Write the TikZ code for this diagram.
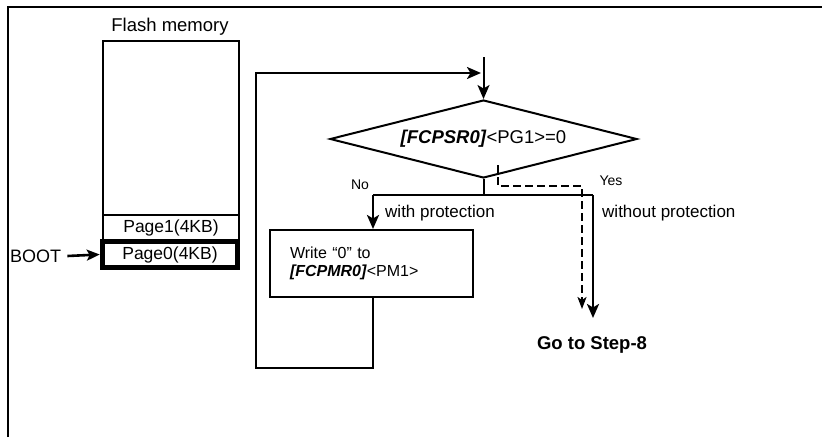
\documentclass[tikz,border=0pt]{standalone}
\usepackage{fontspec}
\setmainfont{Liberation Sans}
\usetikzlibrary{shapes.geometric,arrows.meta}
\begin{document}
\begin{tikzpicture}[x=1pt,y=-1pt,
  font=\fontsize{17}{20}\selectfont,
  ln/.style={line width=2pt},
  arr/.style={-{Stealth[length=14pt,width=12pt,inset=3.5pt]}},
  darr/.style={-{Stealth[length=12pt,width=9pt,inset=3pt]}},
  cell/.style={draw,ln,inner sep=0pt,minimum width=136pt},
  big/.style={font=\fontsize{18.5}{22}\selectfont},
  small/.style={font=\fontsize{14}{16}\selectfont}]
\useasboundingbox (0,0) rectangle (822,437);
% frame
\draw[line width=2pt] (8,437) -- (8,7) -- (822,7);

% flash memory
\node[big] (flashlbl) at (170,27) {Flash memory};
\node[cell,minimum height=174pt,anchor=north west] (flash) at (102,40) {};
\node[cell,minimum height=26pt,anchor=north west,font=\fontsize{17.5}{20}\selectfont] (page1) at (102,214) {Page1(4KB)};
\node[draw,line width=5.5pt,inner sep=0pt,minimum width=135pt,minimum height=26pt,font=\fontsize{17.5}{20}\selectfont] (page0) at (170,254.5) {Page0(4KB)};
\node[anchor=west,inner sep=0pt,font=\fontsize{18}{20}\selectfont] (boot) at (10,256) {BOOT};
\draw[line width=2.6pt,-{Stealth[length=13pt,width=11pt,inset=3pt]}] (boot.east) ++(6,0) coordinate (bootS) (bootS) -- (page0.west);

% decision
\node[draw,ln,shape=diamond,aspect=3.9,inner sep=0pt,minimum width=307pt,minimum height=78pt,big] (dec) at (483.5,139)
  {\textbf{\textit{[FCPSR0]}}<PG1>=0};
\coordinate (in) at (483.5,57);
\draw[ln,arr] (in) -- (dec.north);

\coordinate (split) at (483.5,195);
\coordinate (nl) at (373,195);
\coordinate (nr) at (593,195);
\draw[ln] (dec.south) -- (split);
\draw[line width=2.4pt] (nl) -- (nr);

% process box
\node[draw,ln,minimum width=203pt,minimum height=67pt,inner xsep=20pt,text width=163pt,align=left,font=\fontsize{16}{19}\selectfont] (box) at (371.5,263.5)
  {Write “0” to\\[-1pt]\textbf{\textit{[FCPMR0]}}<PM1>};
\draw[line width=2.6pt,arr] (nl) -- (nl |- box.north);

% right branch
\coordinate (goend) at (593,318);
\draw[line width=2.8pt,arr] (nr) -- (goend);
\node[font=\fontsize{18.5}{22}\selectfont\bfseries] (goto) at (592,345) {Go to Step-8};

% dashed branch
\coordinate (d0) at (498,165);
\coordinate (d1) at (498,186);
\coordinate (d2) at (582,186);
\coordinate (d3) at (582,309);
\draw[line width=2pt,dash pattern=on 8pt off 4pt,darr] (d0) -- (d1) -- (d2) -- (d3);

% labels
\node[small] (no) at (360,185) {No};
\node[small] (yes) at (611,181) {Yes};
\node[anchor=west,inner sep=0pt] (wp) at (385,213) {with protection};
\node[anchor=west,inner sep=0pt] (wop) at (602,213) {without protection};

% loop back
\coordinate (lp1) at (373,368);
\coordinate (lp2) at (256,368);
\coordinate (lp3) at (256,73);
\coordinate (lp4) at (481,73);
\draw[line width=2.4pt,arr] (box.south -| nl) -- (lp1) -- (lp2) -- (lp3) -- (lp4);
\end{tikzpicture}
\end{document}
